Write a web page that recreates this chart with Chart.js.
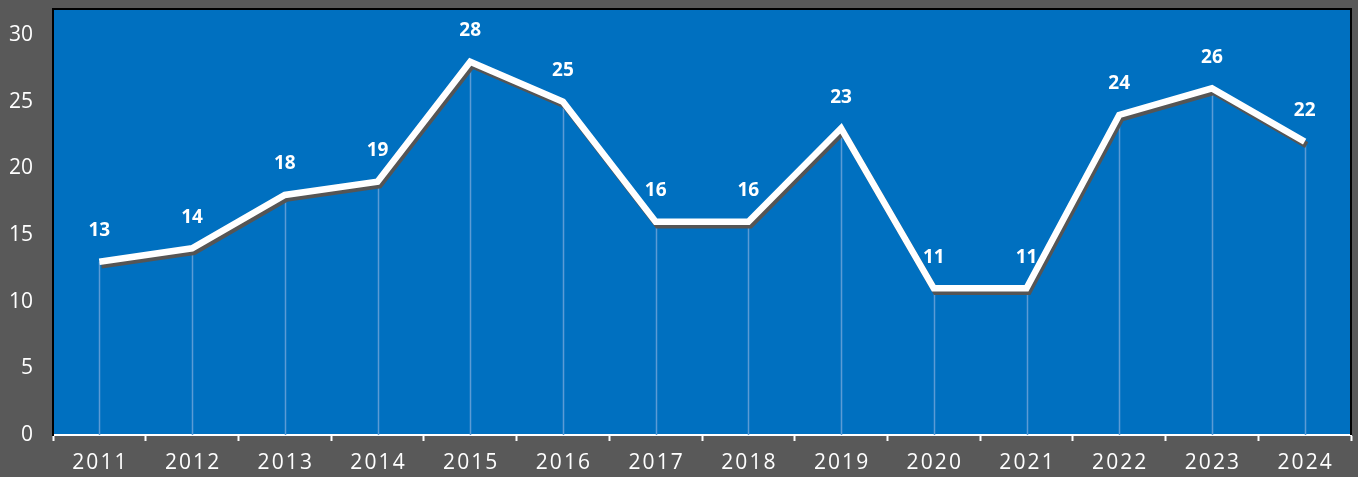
<!DOCTYPE html>
<html>
<head>
<meta charset="utf-8">
<script src="https://cdn.jsdelivr.net/npm/chart.js@4"></script>
<style>
  html, body { margin: 0; padding: 0; background: #595959; }
  #wrap { width: 1358px; height: 477px; }
</style>
</head>
<body>
<div id="wrap"><canvas id="grafico"></canvas></div>
<script>
var anios = ['2011','2012','2013','2014','2015','2016','2017','2018','2019','2020','2021','2022','2023','2024'];
var valores = [13, 14, 18, 19, 28, 25, 16, 16, 23, 11, 11, 24, 26, 22];
var marcasY = [0, 5, 10, 15, 20, 25, 30];

/* fondo azul, lineas de caida, sombra y etiquetas */
var extras = {
  id: 'extras',
  beforeDraw: function (chart) {
    var a = chart.chartArea, ctx = chart.ctx;
    ctx.save();
    ctx.fillStyle = '#0070c0';
    ctx.fillRect(a.left, a.top, a.right - a.left, a.bottom - a.top);
    ctx.restore();
  },
  beforeDatasetsDraw: function (chart) {
    var ctx = chart.ctx, x = chart.scales.x, y = chart.scales.y;
    ctx.save();
    ctx.strokeStyle = '#5b9bd5';
    ctx.lineWidth = 1.5;
    for (var i = 0; i < valores.length; i++) {
      var px = Math.round(x.getPixelForValue(i)) + 0.5;
      ctx.beginPath();
      ctx.moveTo(px, y.getPixelForValue(valores[i]));
      ctx.lineTo(px, y.getPixelForValue(0));
      ctx.stroke();
    }
    ctx.restore();
  },
  beforeDatasetDraw: function (chart) {
    var ctx = chart.ctx;
    ctx.save();
    ctx.shadowColor = '#555555';
    ctx.shadowOffsetX = 2;
    ctx.shadowOffsetY = 3.5;
    ctx.shadowBlur = 0;
  },
  afterDatasetDraw: function (chart) {
    chart.ctx.restore();
  },
  afterDatasetsDraw: function (chart) {
    var ctx = chart.ctx, x = chart.scales.x, y = chart.scales.y, a = chart.chartArea;
    ctx.save();
    ctx.fillStyle = '#ffffff';
    ctx.font = 'bold 19px "Open Sans"';
    ctx.textAlign = 'center';
    ctx.textBaseline = 'middle';
    for (var i = 0; i < valores.length; i++) {
      ctx.fillText(String(valores[i]), x.getPixelForValue(i), y.getPixelForValue(valores[i]) - 31);
    }
    // borde negro arriba y a la derecha
    ctx.strokeStyle = '#000000';
    ctx.lineWidth = 2;
    ctx.beginPath();
    ctx.moveTo(a.left, a.top);
    ctx.lineTo(a.right, a.top);
    ctx.lineTo(a.right, a.bottom);
    ctx.stroke();
    ctx.restore();
  }
};

var ctx = document.getElementById('grafico').getContext('2d');
var grafico = new Chart(ctx, {
  type: 'line',
  data: {
    labels: anios,
    datasets: [{
      label: 'valores',
      data: valores,
      borderColor: '#ffffff',
      borderWidth: 6.5,
      borderJoinStyle: 'miter',
      pointRadius: 0,
      tension: 0,
      fill: false
    }]
  },
  options: {
    responsive: true,
    maintainAspectRatio: false,
    animation: false,
    layout: { padding: { left: 0, right: 7, top: 9, bottom: 0 } },
    plugins: { legend: { display: false }, tooltip: { enabled: false } },
    scales: {
      x: {
        offset: true,
        grid: {
          offset: true,
          drawOnChartArea: false,
          drawTicks: true,
          tickLength: 6,
          tickWidth: 2,
          tickColor: '#ffffff'
        },
        border: { color: '#ffffff', width: 2 },
        ticks: {
          color: '#ffffff',
          padding: 9,
          maxRotation: 0,
          font: { family: 'Open Sans', size: 21 },
          callback: function (v, i) { return anios[i].split('').join('\u200A'); }
        },
        afterFit: function (s) {
          s.height = 42;
          s.paddingLeft = 0;
          s.paddingRight = 0;
        }
      },
      y: {
        min: 0,
        max: 31.95,
        grid: { display: false, drawTicks: false },
        border: { color: '#000000', width: 2 },
        ticks: {
          color: '#ffffff',
          padding: 20,
          stepSize: 5,
          font: { family: 'Open Sans', size: 21 }
        },
        afterBuildTicks: function (s) {
          s.ticks = marcasY.map(function (v) { return { value: v }; });
        },
        afterFit: function (s) {
          s.width = 53;
          s.paddingTop = 0;
          s.paddingBottom = 0;
        }
      }
    }
  },
  plugins: [extras]
});
</script>
</body>
</html>
